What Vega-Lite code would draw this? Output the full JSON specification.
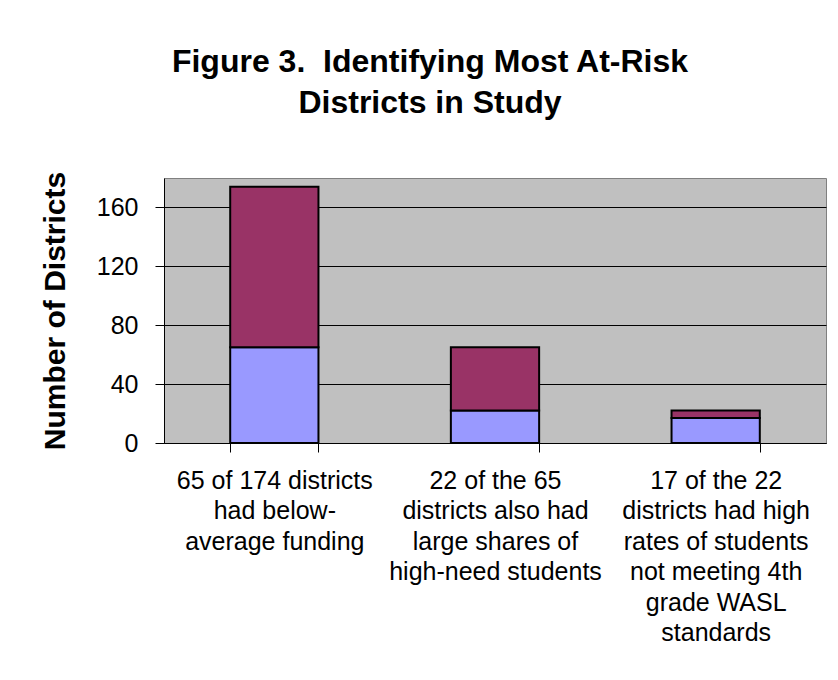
{
  "$schema": "https://vega.github.io/schema/vega-lite/v6.json",
  "width": 662,
  "height": 265,
  "autosize": {"type": "none"},
  "padding": {"left": 164, "top": 178, "right": 12, "bottom": 237},
  "background": "#ffffff",
  "title": {
    "text": ["Figure 3.\u00a0 Identifying Most At-Risk", "Districts in Study"],
    "font": "Liberation Sans",
    "fontSize": 32,
    "fontWeight": "bold",
    "color": "#000000",
    "anchor": "middle",
    "dx": -65,
    "lineHeight": 41,
    "offset": 51
  },
  "data": {
    "values": [
      {"step": "65 of 174 districts|had below-|average funding", "group": "Selected", "rank": 1, "districts": 65},
      {"step": "65 of 174 districts|had below-|average funding", "group": "Not selected", "rank": 2, "districts": 109},
      {"step": "22 of the 65|districts also had|large shares of|high-need students", "group": "Selected", "rank": 1, "districts": 22},
      {"step": "22 of the 65|districts also had|large shares of|high-need students", "group": "Not selected", "rank": 2, "districts": 43},
      {"step": "17 of the 22|districts had high|rates of students|not meeting 4th|grade WASL|standards", "group": "Selected", "rank": 1, "districts": 17},
      {"step": "17 of the 22|districts had high|rates of students|not meeting 4th|grade WASL|standards", "group": "Not selected", "rank": 2, "districts": 5}
    ]
  },
  "mark": {"type": "bar", "stroke": "#000000", "strokeWidth": 2},
  "encoding": {
    "x": {
      "field": "step",
      "type": "nominal",
      "sort": null,
      "scale": {"paddingInner": 0.6, "paddingOuter": 0.3},
      "axis": {
        "title": null,
        "labelAngle": 0,
        "labelExpr": "split(datum.label, '|')",
        "labelFont": "Liberation Sans",
        "labelFontSize": 25,
        "labelLineHeight": 30.5,
        "labelColor": "#000000",
        "labelPadding": 16,
        "labelLimit": 0,
        "tickBand": "extent",
        "tickSize": 9,
        "tickColor": "#000000",
        "domainColor": "#000000",
        "domainWidth": 1
      }
    },
    "y": {
      "field": "districts",
      "type": "quantitative",
      "stack": "zero",
      "scale": {"domain": [0, 180], "nice": false},
      "axis": {
        "title": "Number of Districts",
        "titleFont": "Liberation Sans",
        "titleFontSize": 30,
        "titleFontWeight": "bold",
        "titleColor": "#000000",
        "titlePadding": 26,
        "values": [0, 40, 80, 120, 160],
        "labelFont": "Liberation Sans",
        "labelFontSize": 25,
        "labelColor": "#000000",
        "labelPadding": 17,
        "tickSize": 9,
        "tickColor": "#000000",
        "domainColor": "#000000",
        "grid": true,
        "gridColor": "#000000",
        "gridWidth": 1
      }
    },
    "color": {
      "field": "group",
      "type": "nominal",
      "scale": {"domain": ["Selected", "Not selected"], "range": ["#9999FF", "#993366"]},
      "legend": null
    },
    "order": {"field": "rank", "type": "quantitative"}
  },
  "config": {
    "view": {"fill": "#C0C0C0", "stroke": "#808080", "strokeWidth": 1}
  }
}
